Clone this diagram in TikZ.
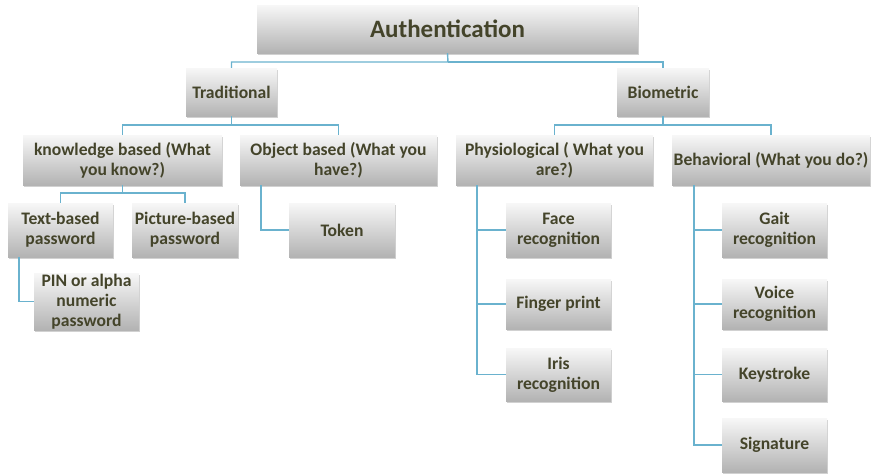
\documentclass[tikz,border=0pt]{standalone}
\usepackage{fontspec}
\setmainfont{Carlito}
\usetikzlibrary{shadows}
\definecolor{labeltext}{HTML}{44442A}
\definecolor{linkblue}{HTML}{6AB2CE}
\tikzset{
  box/.style={rectangle, draw=none, top color=white!97!black, bottom color=black!30,
    text=labeltext, font=\fontsize{17.6}{20}\selectfont\bfseries, align=center,
    inner xsep=1pt, inner ysep=0pt,
    drop shadow={shadow xshift=1.2pt, shadow yshift=-1.6pt, opacity=0.3, fill=black!60}},
  link/.style={draw=linkblue, line width=1.4pt}
}
% box from its corners: #1 name, (#2,#3) top left, (#4,#5) bottom right, #6 text
\newcommand{\treebox}[6]{%
  \node[box, minimum width={#4-#2}, minimum height={#5-#3}] (#1)
    at ({(#2+#4)/2},{(#3+#5)/2}) {#6};}
\begin{document}
\begin{tikzpicture}[x=1pt,y=-1pt]
\useasboundingbox (0,0) rectangle (872,475);

% junction points of the connectors
\coordinate (busA) at (448,62);
\coordinate (busT) at (231.5,125);
\coordinate (busB) at (663,125);
\coordinate (busK) at (122.5,193);
\coordinate (spineText) at (19,257);
\coordinate (spineObj) at (261,185);
\coordinate (spinePhys) at (477,185);
\coordinate (spineBeh) at (694,185);

% top level
\treebox{auth}{257}{5}{638}{53}{\fontsize{25}{28}\selectfont Authentication}
\treebox{trad}{186}{68}{277}{116}{Traditional}
\treebox{bio}{617}{68}{709}{116}{Biometric}
% second level
\treebox{know}{23}{135}{222}{185}{knowledge based (What\\you know?)}
\treebox{obj}{240}{135}{437}{185}{Object based (What you\\have?)}
\treebox{phys}{456}{135}{653}{185}{Physiological ( What you\\are?)}
\treebox{beh}{672}{135}{870}{185}{Behavioral (What you do?)}
% third level, traditional side
\treebox{text}{8}{203}{113}{257}{Text-based\\password}
\treebox{pic}{132}{203}{238}{257}{Picture-based\\password}
\treebox{pin}{34}{273}{139}{330}{PIN or alpha\\numeric\\password}
\treebox{token}{289}{203}{395}{257}{Token}
% third level, biometric side
\treebox{face}{506}{203}{611}{257}{Face\\recognition}
\treebox{finger}{506}{279}{611}{329}{Finger print}
\treebox{iris}{506}{348}{611}{401}{Iris\\recognition}
\treebox{gait}{722}{203}{827}{257}{Gait\\recognition}
\treebox{voice}{722}{279}{827}{329}{Voice\\recognition}
\treebox{key}{722}{348}{827}{401}{Keystroke}
\treebox{sig}{722}{418}{827}{472}{Signature}

% connectors
\path[link] (auth.south) -- (busA) -| (trad.north);
\path[link] (busA) -| (bio.north);
\path[link] (trad.south) -- (busT) -| (know.north);
\path[link] (busT) -| (obj.north);
\path[link] (bio.south) -- (busB) -| (phys.north);
\path[link] (busB) -| (beh.north);
\path[link] (know.south) -- (busK) -| (text.north);
\path[link] (busK) -| (pic.north);
\path[link] (spineText) |- (pin.west);
\path[link] (spineObj) |- (token.west);
\path[link] (spinePhys) |- (face.west);
\path[link] (spinePhys) |- (finger.west);
\path[link] (spinePhys) |- (iris.west);
\path[link] (spineBeh) |- (gait.west);
\path[link] (spineBeh) |- (voice.west);
\path[link] (spineBeh) |- (key.west);
\path[link] (spineBeh) |- (sig.west);
\end{tikzpicture}
\end{document}
